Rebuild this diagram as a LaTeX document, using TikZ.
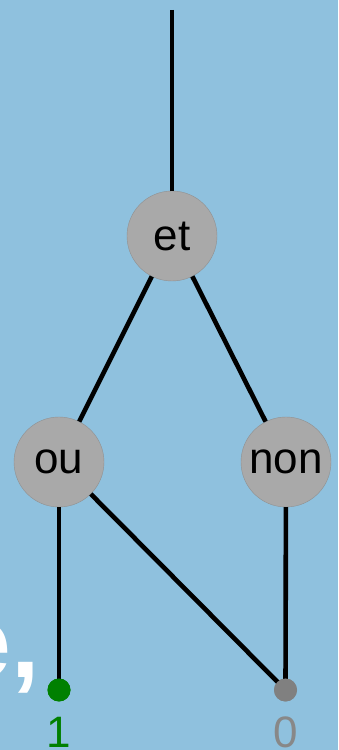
\documentclass[tikz,border=0pt]{standalone}
\usepackage{fontspec}
\setmainfont{Liberation Sans}
\definecolor{bg}{RGB}{143,193,222}
\definecolor{nodegray}{RGB}{169,169,169}
\definecolor{dotgray}{RGB}{128,128,128}
\definecolor{labgray}{RGB}{136,136,136}
\definecolor{dotgreen}{RGB}{0,128,0}
\begin{document}
\begin{tikzpicture}[x=1pt,y=1pt,
  gate/.style={circle,fill=nodegray,draw=nodegray!85!black,line width=0.4pt,minimum size=90pt,inner sep=0pt,font=\fontsize{44}{44}\selectfont},
  wire/.style={line width=4.6pt,black},
  term/.style={circle,minimum size=23pt,inner sep=0pt},
  lab/.style={font=\fontsize{44}{44}\selectfont,inner sep=0pt,anchor=base}]
\fill[bg] (0,0) rectangle (338,750);
\useasboundingbox (0,0) rectangle (338,750);
\node[anchor=base east,inner sep=0pt,text=white,font=\fontsize{102}{102}\bfseries\selectfont] (word) at (40,72) {e,};
\coordinate (top) at (172,740);
\node[gate] (et) at (172,514) {et};
\node[gate] (ou) at (59,288) {ou};
\node[gate] (non) at (286,288) {non};
\node[term,fill=dotgreen] (one) at (59,60) {};
\node[term,fill=dotgray] (zero) at (285.5,60) {};
\node[lab,text=dotgreen] (lone) at (59,2) {1};
\node[lab,text=labgray] (lzero) at (286,2) {0};
\draw[wire] (top) -- (et);
\draw[wire] (et) -- (ou);
\draw[wire] (et) -- (non);
\draw[wire] (ou) -- (one.center);
\draw[wire] (ou) -- (zero.center);
\draw[wire] (non) -- (zero.center);
\node[term,fill=dotgreen] at (one) {};
\node[term,fill=dotgray] at (zero) {};
\end{tikzpicture}
\end{document}
